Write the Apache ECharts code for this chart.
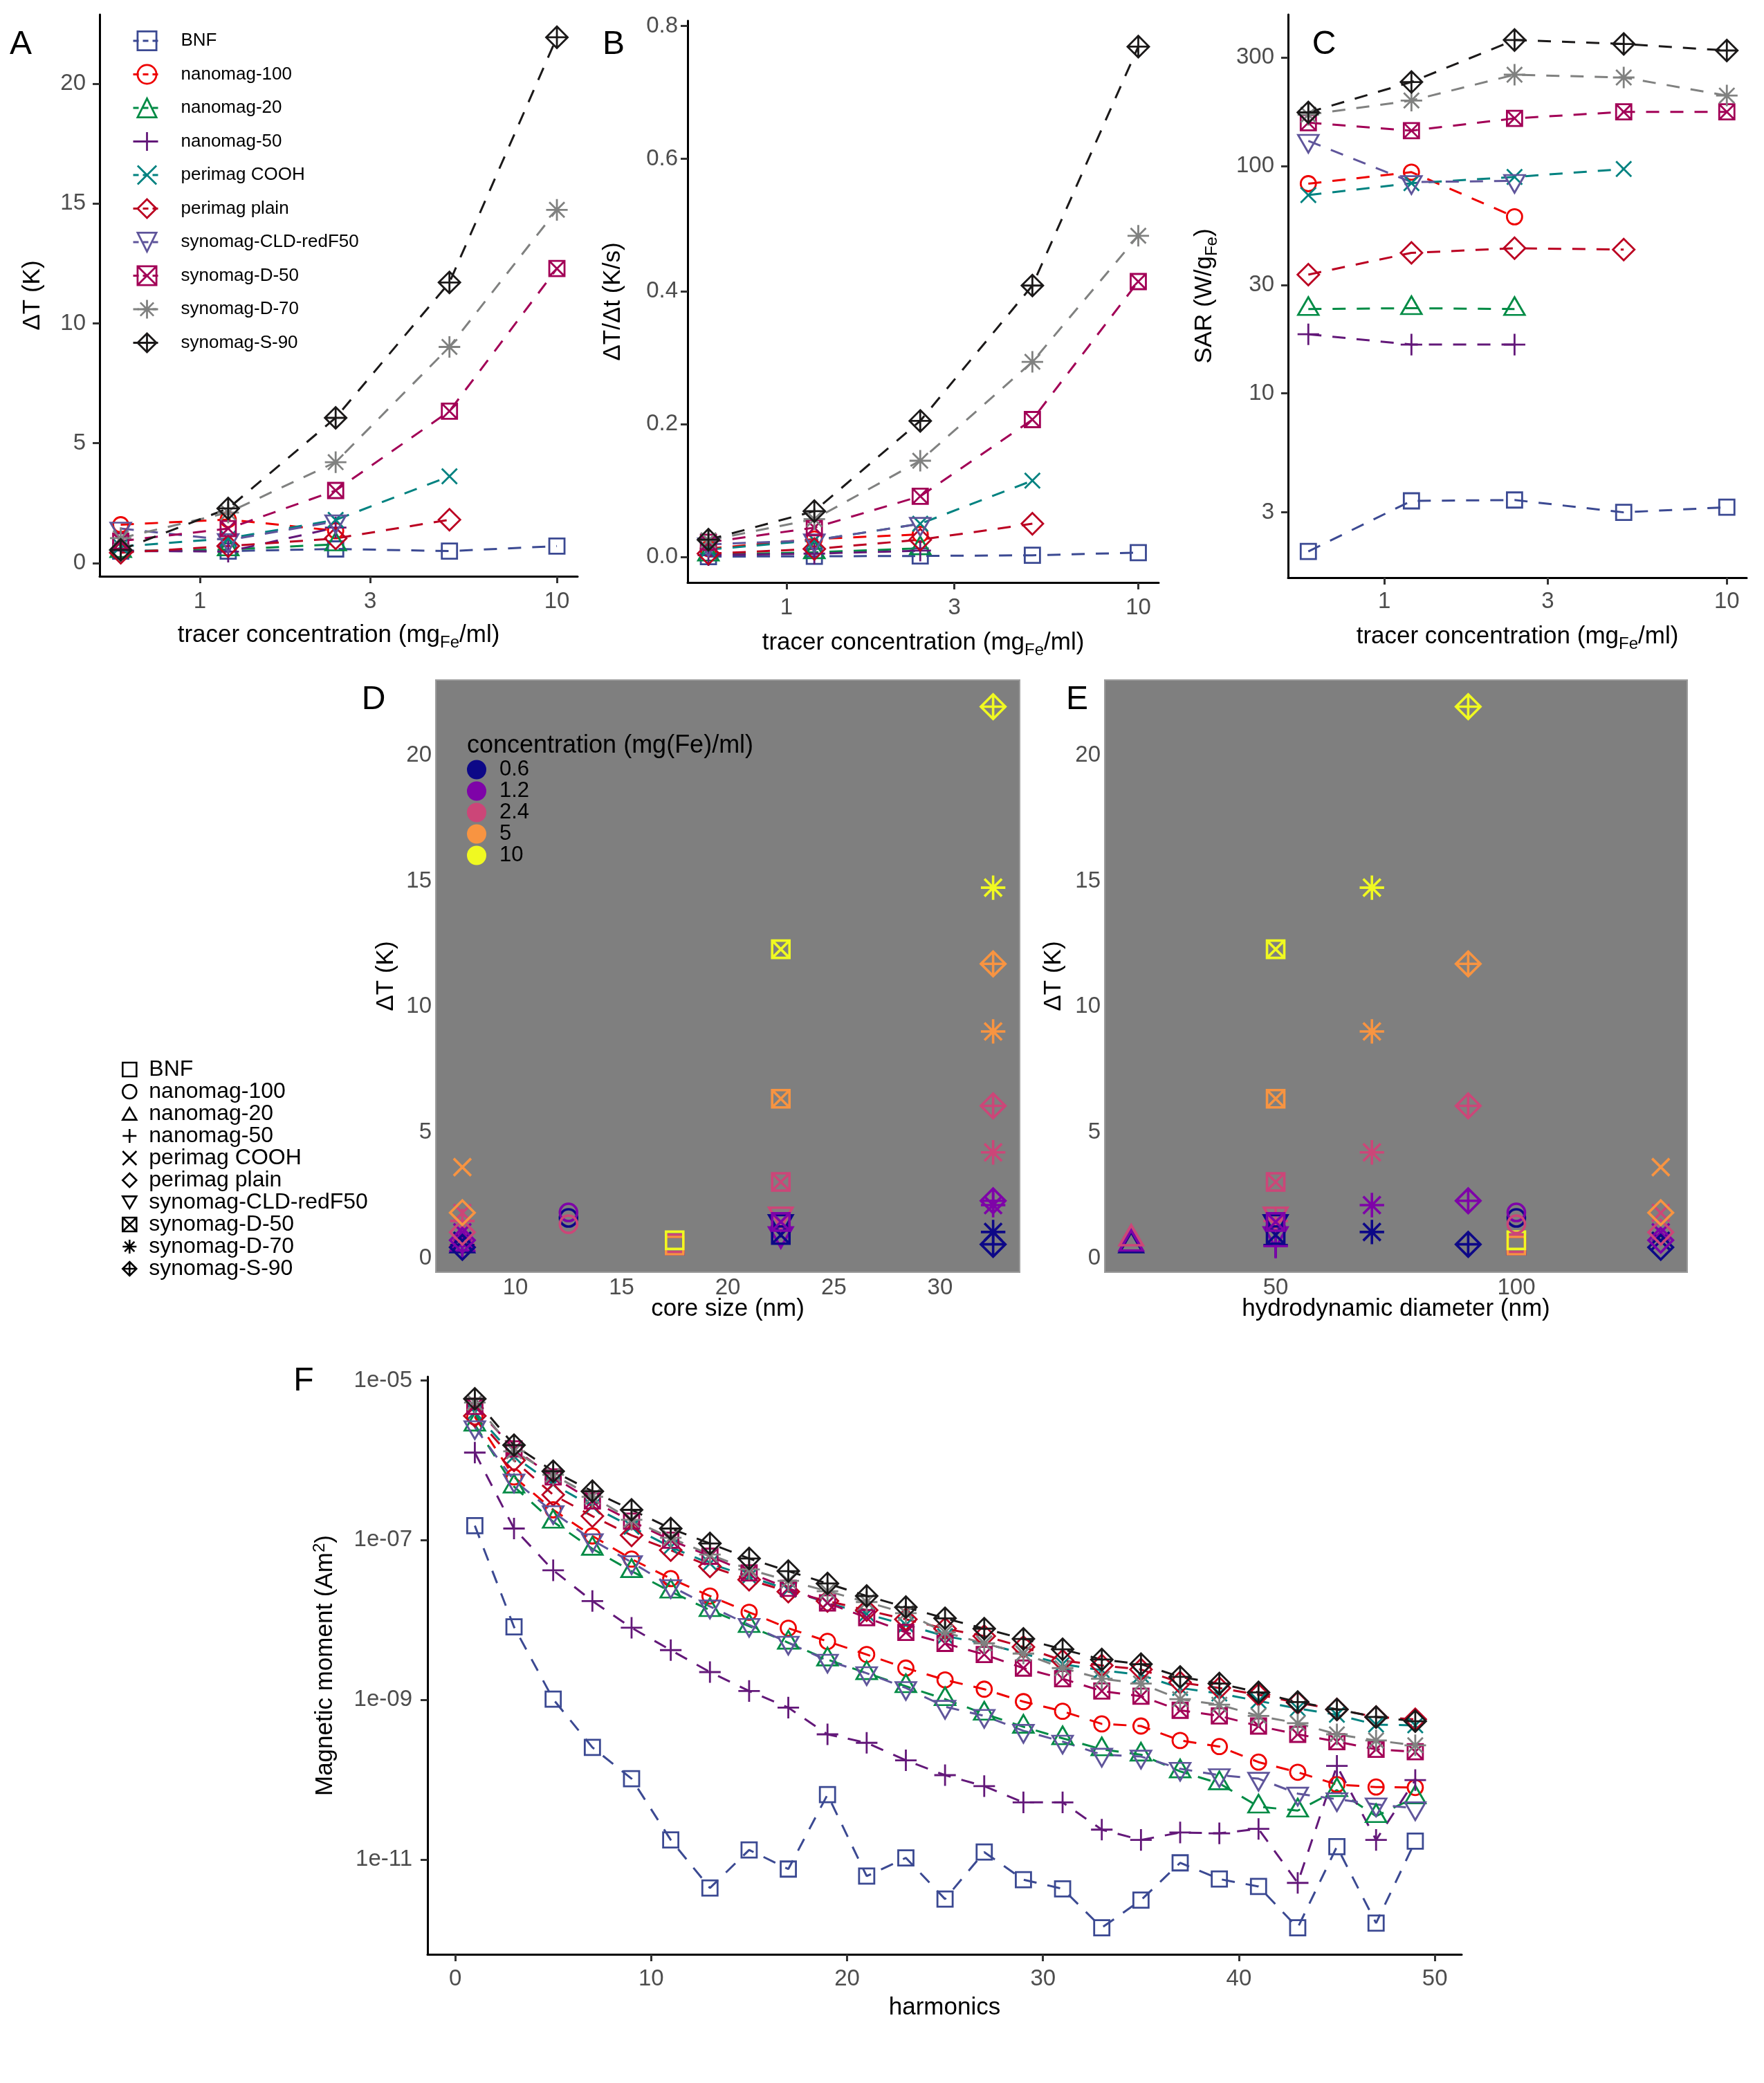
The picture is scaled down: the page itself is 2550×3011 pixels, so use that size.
<!DOCTYPE html>
<html lang="en">
<head>
<meta charset="UTF-8">
<title>Tracer heating and harmonics</title>
<script src="https://cdn.jsdelivr.net/npm/echarts@6/dist/echarts.min.js"></script>
<style>
  html, body { margin: 0; padding: 0; background: #fff; }
  #main { width: 2550px; height: 3011px; }
</style>
</head>
<body>
<div id="main"></div>
<script>
// ---- data ----
var tracers = ['BNF', 'nanomag-100', 'nanomag-20', 'nanomag-50', 'perimag COOH', 'perimag plain',
               'synomag-CLD-redF50', 'synomag-D-50', 'synomag-D-70', 'synomag-S-90'];
var concentrations = [0.6, 1.2, 2.4, 5, 10];
var concLabels = ['0.6', '1.2', '2.4', '5', '10'];

// temperature rise dT (K), one row per tracer, one value per concentration
var deltaT = [
  [0.50, 0.50, 0.59, 0.50, 0.71],
  [1.60, 1.82, 1.35],
  [0.50, 0.57, 0.78],
  [0.52, 0.48, 1.48],
  [0.69, 1.03, 1.80, 3.62],
  [0.43, 0.71, 1.03, 1.81],
  [1.44, 0.96, 1.74],
  [0.92, 1.44, 3.03, 6.34, 12.29],
  [1.04, 2.11, 4.21, 9.02, 14.74],
  [0.55, 2.28, 6.06, 11.71, 21.94]
];
// heating rate dT/dt (K/s)
var heatRate = [
  [0.0005, 0.001, 0.0015, 0.0025, 0.0065],
  [0.0125, 0.027, 0.034],
  [0.0035, 0.007, 0.013],
  [0.0027, 0.005, 0.0095],
  [0.011, 0.025, 0.050, 0.115],
  [0.005, 0.012, 0.026, 0.050],
  [0.019, 0.025, 0.050],
  [0.022, 0.044, 0.0915, 0.207, 0.415],
  [0.025, 0.057, 0.145, 0.294, 0.484],
  [0.026, 0.069, 0.205, 0.409, 0.769]
];
// SAR (W/g Fe)
var sar = [
  [2.02, 3.37, 3.4, 3.0, 3.16],
  [83.6, 94, 59.8],
  [23.5, 23.7, 23.5],
  [18.2, 16.4, 16.4],
  [74.5, 84, 89.5, 97],
  [33.3, 41.5, 43.5, 42.9],
  [129, 85, 86],
  [155, 143, 162, 173, 173],
  [168, 194, 252, 245, 204],
  [172, 234, 358, 344, 322]
];
var coreSize = [17.5, 12.5, 7.5, 7.5, 7.5, 7.5, 22.5, 22.5, 32.5, 32.5];
var hydroDiameter = [100, 100, 20, 50, 130, 130, 50, 50, 70, 90];

var harmonics = [1, 3, 5, 7, 9, 11, 13, 15, 17, 19, 21, 23, 25, 27, 29, 31, 33, 35, 37, 39, 41, 43, 45, 47, 49];
// magnetic moment (Am^2) per harmonic
var moment = [
  [1.52e-7, 8.2e-9, 1.02e-9, 2.54e-10, 1.03e-10, 1.76e-11, 4.4e-12, 1.32e-11, 7.6e-12, 6.5e-11, 6.2e-12, 1.05e-11, 3.2e-12,
   1.24e-11, 5.6e-12, 4.3e-12, 1.4e-12, 3.1e-12, 9.1e-12, 5.7e-12, 4.6e-12, 1.4e-12, 1.45e-11, 1.6e-12, 1.7e-11],
  [3.5e-6, 6.2e-7, 2.4e-7, 1.13e-7, 5.8e-8, 3.3e-8, 2.0e-8, 1.25e-8, 7.9e-9, 5.4e-9, 3.7e-9, 2.5e-9, 1.78e-9,
   1.36e-9, 9.5e-10, 7.2e-10, 5.0e-10, 4.7e-10, 3.1e-10, 2.6e-10, 1.66e-10, 1.24e-10, 8.7e-11, 8.1e-11, 8.0e-11],
  [2.8e-6, 4.7e-7, 1.7e-7, 7.8e-8, 4.1e-8, 2.27e-8, 1.33e-8, 8.4e-9, 5.2e-9, 3.2e-9, 2.16e-9, 1.48e-9, 1.02e-9,
   6.7e-10, 4.6e-10, 3.3e-10, 2.4e-10, 2.06e-10, 1.27e-10, 9.0e-11, 4.6e-11, 4.1e-11, 7.4e-11, 3.5e-11, 6.0e-11],
  [1.25e-6, 1.4e-7, 4.2e-8, 1.73e-8, 8.0e-9, 4.2e-9, 2.23e-9, 1.29e-9, 8.0e-10, 3.7e-10, 2.9e-10, 1.75e-10, 1.14e-10,
   8.3e-11, 5.2e-11, 5.2e-11, 2.37e-11, 1.76e-11, 2.18e-11, 2.13e-11, 2.42e-11, 5.1e-12, 1.49e-10, 1.76e-11, 9.9e-11],
  [4.0e-6, 1.12e-6, 5.0e-7, 2.65e-7, 1.47e-7, 8.2e-8, 5.1e-8, 3.5e-8, 2.4e-8, 1.64e-8, 1.19e-8, 8.7e-9, 6.3e-9,
   5.1e-9, 3.8e-9, 2.8e-9, 2.35e-9, 2.05e-9, 1.41e-9, 1.2e-9, 9.7e-10, 7.8e-10, 6.5e-10, 4.9e-10, 4.8e-10],
  [3.6e-6, 1.0e-6, 3.7e-7, 2.0e-7, 1.15e-7, 7.5e-8, 4.7e-8, 3.2e-8, 2.27e-8, 1.73e-8, 1.33e-8, 1.02e-8, 7.8e-9,
   6.3e-9, 4.6e-9, 3.1e-9, 2.7e-9, 2.4e-9, 1.65e-9, 1.41e-9, 1.16e-9, 9.2e-10, 7.6e-10, 6.1e-10, 5.7e-10],
  [2.6e-6, 5.6e-7, 2.25e-7, 1.0e-7, 5.3e-8, 2.66e-8, 1.48e-8, 8.7e-9, 5.2e-9, 3.1e-9, 2.16e-9, 1.41e-9, 8.2e-10,
   6.3e-10, 4.1e-10, 3.0e-10, 2.06e-10, 1.95e-10, 1.37e-10, 1.14e-10, 1.03e-10, 6.7e-11, 5.7e-11, 4.9e-11, 4.4e-11],
  [4.75e-6, 1.39e-6, 6.2e-7, 3.1e-7, 1.73e-7, 1.0e-7, 6.3e-8, 3.9e-8, 2.5e-8, 1.64e-8, 1.07e-8, 7.0e-9, 5.1e-9,
   3.7e-9, 2.5e-9, 1.84e-9, 1.29e-9, 1.11e-9, 7.4e-10, 6.3e-10, 4.7e-10, 3.7e-10, 3.0e-10, 2.4e-10, 2.24e-10],
  [5.3e-6, 1.3e-6, 6.6e-7, 3.5e-7, 1.8e-7, 1.07e-7, 6.6e-8, 4.3e-8, 3.1e-8, 2.3e-8, 1.68e-8, 1.22e-8, 7.0e-9,
   5.1e-9, 3.8e-9, 2.5e-9, 1.84e-9, 1.6e-9, 1.02e-9, 8.7e-10, 6.3e-10, 5.1e-10, 3.7e-10, 3.1e-10, 2.7e-10],
  [5.9e-6, 1.55e-6, 7.3e-7, 4.1e-7, 2.4e-7, 1.4e-7, 9.1e-8, 5.9e-8, 4.1e-8, 2.87e-8, 2.0e-8, 1.45e-8, 1.05e-8,
   7.8e-9, 5.8e-9, 4.3e-9, 3.2e-9, 2.8e-9, 1.94e-9, 1.6e-9, 1.24e-9, 9.4e-10, 7.6e-10, 6.1e-10, 5.4e-10]
];

// tick labels
var concTicks = [1, 3, 10];
var dTTicks = [0, 5, 10, 15, 20];
var rateTicks = [0, 0.2, 0.4, 0.6, 0.8];
var sarTicks = [3, 10, 30, 100, 300];
var coreTicks = [10, 15, 20, 25, 30];
var hydroTicks = [50, 100];
var harmTicks = [0, 10, 20, 30, 40, 50];
var momentTicks = [1e-11, 1e-9, 1e-7, 1e-5];

// ---- styles ----
var FONT = "'Liberation Sans', Arial, sans-serif";
var tracerColors = ['#3B4992', '#EE0000', '#008B45', '#631879', '#008280', '#BB0021', '#5F559B', '#A20056', '#808180', '#1B1919'];
var concColors = ['#0D0887', '#7E03A8', '#CC4678', '#F89441', '#F0F921'];
var shapePaths = [
  'path://M0 0L10 0L10 10L0 10Z',
  'circle',
  'path://M5 0L10 8.66L0 8.66Z',
  'path://M5 0L5 10M0 5L10 5',
  'path://M0 0L10 10M10 0L0 10',
  'path://M5 0L10 5L5 10L0 5Z',
  'path://M0 0L10 0L5 8.66Z',
  'path://M0 0L10 0L10 10L0 10ZM0 0L10 10M10 0L0 10',
  'path://M5 0L5 10M0 5L10 5M1.46 1.46L8.54 8.54M8.54 1.46L1.46 8.54',
  'path://M5 0L10 5L5 10L0 5ZM5 0L5 10M0 5L10 5'
];
// relative sizes in units of the symbol radius
var shapeW = [2, 2, 2.69, 2.83, 2, 2.83, 2.69, 2, 2.83, 2.83];
var shapeH = [2, 2, 2.33, 2.83, 2, 2.83, 2.33, 2, 2.83, 2.83];
var shapeDy = [0, 0, -0.39, 0, 0, 0, 0.39, 0, 0, 0];
var lineDash = [19, 16];

function pairs(xs, ys) {
  var out = [];
  for (var j = 0; j < ys.length; j++) out.push([xs[j], ys[j]]);
  return out;
}

function symSize(i, r) { return [shapeW[i] * r, shapeH[i] * r]; }

var tickLabel = { color: '#4D4D4D', fontSize: 33, fontFamily: FONT };
var nameStyle = {
  color: '#000', fontSize: 35, fontFamily: FONT,
  rich: { sub: { fontSize: 24, fontFamily: FONT, color: '#000', padding: [22, 0, 0, 0] } }
};

function classicAxis(o) {
  var ax = {
    gridIndex: o.grid, type: o.type || 'value', min: o.min, max: o.max,
    axisLine: { show: true, onZero: false, lineStyle: { color: '#000', width: 3 } },
    axisTick: { show: true, length: 10, customValues: o.ticks, lineStyle: { color: '#333', width: 3 } },
    axisLabel: Object.assign({ customValues: o.ticks, margin: o.margin, formatter: o.formatter }, tickLabel),
    splitLine: { show: false }, minorTick: { show: false },
    name: o.name, nameLocation: 'middle', nameGap: o.gap, nameTextStyle: nameStyle, nameMoveOverlap: false
  };
  if (o.type === 'log') ax.logBase = 10;
  return ax;
}

function darkAxis(o) {
  return {
    gridIndex: o.grid, type: 'value', min: o.min, max: o.max,
    axisLine: { show: false, onZero: false },
    axisTick: { show: false },
    axisLabel: Object.assign({ customValues: o.ticks, margin: o.margin }, tickLabel),
    splitLine: { show: false },
    name: o.name, nameLocation: 'middle', nameGap: o.gap, nameTextStyle: nameStyle, nameMoveOverlap: false
  };
}

var xAxes = [
  classicAxis({ grid: 0, type: 'log', min: 0.5236, max: 11.43, ticks: concTicks, margin: 20, gap: 62,
                name: 'tracer concentration (mg{sub|Fe}/ml)' }),
  classicAxis({ grid: 1, type: 'log', min: 0.5236, max: 11.43, ticks: concTicks, margin: 20, gap: 64,
                name: 'tracer concentration (mg{sub|Fe}/ml)' }),
  classicAxis({ grid: 2, type: 'log', min: 0.5236, max: 11.43, ticks: concTicks, margin: 18, gap: 62,
                name: 'tracer concentration (mg{sub|Fe}/ml)' }),
  darkAxis({ grid: 3, min: 6.25, max: 33.75, ticks: coreTicks, margin: 6, gap: 36, name: 'core size (nm)' }),
  darkAxis({ grid: 4, min: 14.5, max: 135.5, ticks: hydroTicks, margin: 6, gap: 36, name: 'hydrodynamic diameter (nm)' }),
  classicAxis({ grid: 5, min: -1.415, max: 51.37, ticks: harmTicks, margin: 19, gap: 60, name: 'harmonics' })
];

var yAxes = [
  classicAxis({ grid: 0, min: -0.55, max: 22.89, ticks: dTTicks, margin: 20, gap: 79, name: '\u0394T (K)' }),
  classicAxis({ grid: 1, min: -0.0385, max: 0.808, ticks: rateTicks, margin: 14, gap: 90, name: '\u0394T/\u0394t (K/s)',
                formatter: function (v) { return v.toFixed(1); } }),
  classicAxis({ grid: 2, type: 'log', min: 1.549, max: 463.4, ticks: sarTicks, margin: 20, gap: 98,
                name: 'SAR (W/g{sub|Fe})' }),
  darkAxis({ grid: 3, min: -0.56, max: 23.0, ticks: dTTicks, margin: 6, gap: 54, name: '\u0394T (K)' }),
  darkAxis({ grid: 4, min: -0.56, max: 23.0, ticks: dTTicks, margin: 6, gap: 56, name: '\u0394T (K)' }),
  classicAxis({ grid: 5, type: 'log', min: 6.5e-13, max: 1.117e-5, ticks: momentTicks, margin: 22, gap: 128,
                name: 'Magnetic moment (Am{sup|2})',
                formatter: function (v) {
                  var e = Math.round(Math.log10(v));
                  return '1e' + (e < 0 ? '-' : '+') + String(Math.abs(e)).padStart(2, '0');
                } })
];
yAxes[5].nameTextStyle = Object.assign({}, nameStyle, {
  rich: { sup: { fontSize: 24, fontFamily: FONT, color: '#000', padding: [0, 0, 16, 0] } }
});

var series = [];
var legendA = [];
var legendShapes = [];
var R = 11, RD = 12.5;
var LW = 3, BW = 2.8, BWD = 3.6;

for (var i = 0; i < tracers.length; i++) {
  var col = tracerColors[i];
  var lineBase = {
    type: 'line', symbol: shapePaths[i], symbolSize: symSize(i, R), symbolOffset: [0, shapeDy[i] * R],
    showAllSymbol: true, animation: false, silent: true, clip: false,
    itemStyle: { color: 'transparent', borderColor: col, borderWidth: BW, opacity: 1 },
    lineStyle: { color: col, width: LW, type: lineDash },
    emphasis: { disabled: true }
  };
  series.push(Object.assign({}, lineBase, { name: tracers[i], xAxisIndex: 0, yAxisIndex: 0, data: pairs(concentrations, deltaT[i]) }));
  series.push(Object.assign({}, lineBase, { name: tracers[i] + '#B', xAxisIndex: 1, yAxisIndex: 1, data: pairs(concentrations, heatRate[i]) }));
  series.push(Object.assign({}, lineBase, { name: tracers[i] + '#C', xAxisIndex: 2, yAxisIndex: 2, data: pairs(concentrations, sar[i]) }));
  series.push(Object.assign({}, lineBase, { name: tracers[i] + '#F', xAxisIndex: 5, yAxisIndex: 5, data: pairs(harmonics, moment[i]) }));

  legendA.push({
    name: tracers[i],
    itemStyle: { color: 'transparent', borderColor: col, borderWidth: BW },
    lineStyle: { color: col, width: LW, type: [8, 6] }
  });

  var dPts = [], ePts = [];
  for (var j = 0; j < deltaT[i].length; j++) {
    dPts.push({ value: [coreSize[i], deltaT[i][j]], itemStyle: { borderColor: concColors[j] } });
    ePts.push({ value: [hydroDiameter[i], deltaT[i][j]], itemStyle: { borderColor: concColors[j] } });
  }
  var scatterBase = {
    type: 'scatter', symbol: shapePaths[i], symbolSize: symSize(i, RD), symbolOffset: [0, shapeDy[i] * RD],
    animation: false, silent: true, clip: false,
    itemStyle: { color: 'transparent', borderColor: '#000', borderWidth: BWD, opacity: 1 },
    emphasis: { disabled: true }
  };
  series.push(Object.assign({}, scatterBase, { name: tracers[i] + '#D', xAxisIndex: 3, yAxisIndex: 3, data: dPts }));
  series.push(Object.assign({}, scatterBase, { name: tracers[i] + '#E', xAxisIndex: 4, yAxisIndex: 4, data: ePts }));

  legendShapes.push({
    name: tracers[i] + '#D', icon: shapePaths[i],
    itemStyle: { color: 'transparent', borderColor: '#000', borderWidth: 2.6, opacity: 1 }
  });
}

// empty series that only carry the concentration colour key
var legendConc = [];
for (var k = 0; k < concLabels.length; k++) {
  series.push({ type: 'scatter', name: concLabels[k], xAxisIndex: 3, yAxisIndex: 3, data: [],
                symbol: 'circle', itemStyle: { color: concColors[k], opacity: 1 } });
  legendConc.push({ name: concLabels[k], icon: 'circle', itemStyle: { color: concColors[k], opacity: 1 } });
}

function panelLetter(txt, x, y) {
  return { type: 'text', x: x, y: y, silent: true,
           style: { text: txt, fontSize: 48, fontFamily: FONT, fill: '#000', align: 'center', verticalAlign: 'middle' } };
}

var option = {
  backgroundColor: '#fff',
  animation: false,
  textStyle: { fontFamily: FONT },
  grid: [
    { left: 144, top: 21, width: 691, height: 812, outerBoundsMode: 'none' },
    { left: 994, top: 30, width: 681, height: 812, outerBoundsMode: 'none' },
    { left: 1862, top: 21, width: 663, height: 814, outerBoundsMode: 'none' },
    { left: 630, top: 983, width: 844, height: 856, show: true, backgroundColor: '#7F7F7F',
      borderColor: '#9C9C9C', borderWidth: 2, outerBoundsMode: 'none' },
    { left: 1597, top: 983, width: 842, height: 856, show: true, backgroundColor: '#7F7F7F',
      borderColor: '#9C9C9C', borderWidth: 2, outerBoundsMode: 'none' },
    { left: 618, top: 1990, width: 1495, height: 835, outerBoundsMode: 'none' }
  ],
  xAxis: xAxes,
  yAxis: yAxes,
  legend: [
    { data: legendA, orient: 'vertical', left: 191, top: 42, padding: 0,
      itemWidth: 40, itemHeight: 34, itemGap: 14.5, selectedMode: false,
      textStyle: { fontSize: 26, fontFamily: FONT, color: '#000', lineHeight: 34, padding: [0, 0, 0, 24] } },
    { data: legendShapes, orient: 'vertical', left: 176, top: 1530, padding: 0,
      itemWidth: 20, itemHeight: 20, itemGap: 0, selectedMode: false,
      formatter: function (name) { return name.split('#')[0]; },
      textStyle: { fontSize: 32, fontFamily: FONT, color: '#000', lineHeight: 30.7, padding: [0, 0, 0, 13] } },
    { data: legendConc, orient: 'vertical', left: 675, top: 1097, padding: 0,
      itemWidth: 28, itemHeight: 28, itemGap: 0, selectedMode: false,
      textStyle: { fontSize: 31, fontFamily: FONT, color: '#000', lineHeight: 30.6, padding: [0, 0, 0, 14] } }
  ],
  graphic: [
    panelLetter('A', 30, 65),
    panelLetter('B', 887, 65),
    panelLetter('C', 1914, 65),
    panelLetter('D', 540, 1012),
    panelLetter('E', 1557, 1012),
    panelLetter('F', 439, 1997),
    { type: 'text', x: 675, y: 1078, silent: true,
      style: { text: 'concentration (mg(Fe)/ml)', fontSize: 36, fontFamily: FONT, fill: '#000', align: 'left', verticalAlign: 'middle' } }
  ],
  series: series
};

var chart = echarts.init(document.getElementById('main'));
chart.setOption(option);
</script>
</body>
</html>
